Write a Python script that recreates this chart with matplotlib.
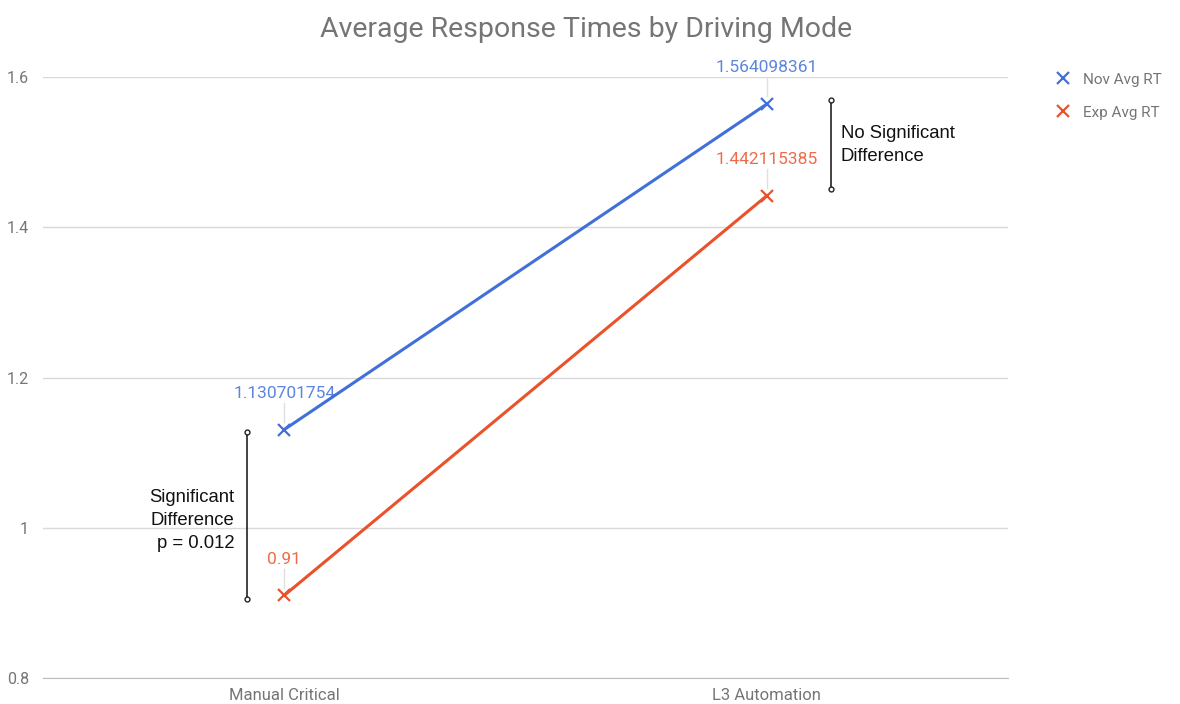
import matplotlib
matplotlib.use("Agg")
import matplotlib.pyplot as plt

categories = ["Manual Critical", "L3 Automation"]
nov_avg_rt = [1.130701754, 1.564098361]
exp_avg_rt = [0.91, 1.442115385]
nov_labels = ["1.130701754", "1.564098361"]
exp_labels = ["0.91", "1.442115385"]
yticks = [0.8, 1.0, 1.2, 1.4, 1.6]
ytick_labels = ["0.8", "1", "1.2", "1.4", "1.6"]

plt.rcParams['font.family'] = ['Roboto', 'DejaVu Sans']

BLUE = "#4070d8"
RED = "#ea522b"
GRAY = "#757575"

fig = plt.figure(figsize=(11.8, 7.04), dpi=100)
ax = fig.add_axes([0.0364, 0.0369, 0.818, 0.8537])

x = list(range(len(categories)))
ax.plot(x, nov_avg_rt, color=BLUE, lw=2.2, marker='x', ms=9, mew=1.6, label="Nov Avg RT", zorder=3)
ax.plot(x, exp_avg_rt, color=RED, lw=2.2, marker='x', ms=9, mew=1.6, label="Exp Avg RT", zorder=3)

# data labels with faint leader lines
for xi, v, t in zip(x, nov_avg_rt, nov_labels):
    ax.plot([xi, xi], [v + 0.01, v + 0.035], color="#e0e0e0", lw=1, zorder=2)
    ax.text(xi, v + 0.038, t, color=BLUE, fontsize=12.5, ha='center', va='bottom', alpha=0.85)
for xi, v, t in zip(x, exp_avg_rt, exp_labels):
    ax.plot([xi, xi], [v + 0.01, v + 0.035], color="#e0e0e0", lw=1, zorder=2)
    ax.text(xi, v + 0.038, t, color=RED, fontsize=12.5, ha='center', va='bottom', alpha=0.85)

ax.set_xlim(-0.5, 1.5)
ax.set_ylim(0.8, 1.6)
ax.set_yticks(yticks)
ax.set_yticklabels(ytick_labels)
ax.set_xticks(x)
ax.set_xticklabels(categories)
ax.tick_params(axis='both', length=0, colors=GRAY, labelsize=11.5)
ax.tick_params(axis='x', labelsize=12)
ax.tick_params(axis='y', pad=10)
ax.tick_params(axis='x', pad=7)
ax.grid(axis='y', color="#d9d9d9", lw=1)
ax.set_axisbelow(True)
for s in ax.spines.values():
    s.set_visible(False)
ax.spines['bottom'].set_visible(True)
ax.spines['bottom'].set_color("#bdbdbd")

# brackets
def bracket(xb, y0, y1):
    ax.plot([xb, xb], [y0, y1], color="#222222", lw=1.2, zorder=4)
    ax.plot([xb, xb], [y0, y1], ls='none', marker='o', ms=3.5, mfc='white', mec='#222222', mew=1, zorder=5)

bracket(-0.077, 0.905, 1.127)
bracket(1.133, 1.451, 1.569)
ann_font = ['Liberation Sans', 'DejaVu Sans']
ax.text(-0.103, 1.010, "Significant\nDifference\np = 0.012", ha='right', va='center',
        fontsize=13.3, color="#111111", linespacing=1.47, family=ann_font)
ax.text(1.153, 1.510, "No Significant\nDifference", ha='left', va='center',
        fontsize=13.3, color="#111111", linespacing=1.47, family=ann_font)

fig.text(0.497, 0.958, "Average Response Times by Driving Mode", ha='center', va='center',
         fontsize=20.5, color=GRAY)

leg = ax.legend(loc='upper left', bbox_to_anchor=(1.035, 1.03), frameon=False,
                fontsize=11, labelcolor=GRAY, handlelength=1.0, handletextpad=0.8,
                labelspacing=1.25)
for h in leg.legend_handles:
    h.set_linestyle('none')

fig.savefig("out.png", dpi=100)
